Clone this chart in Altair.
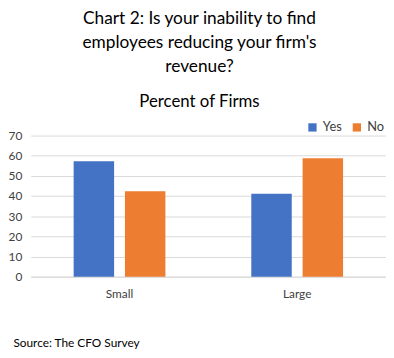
import altair as alt
import pandas as pd

categories = ["Small", "Large"]
series = ["Yes", "No"]
yes_values = [57.3, 41.2]
no_values = [42.4, 58.8]
y_ticks = [0, 10, 20, 30, 40, 50, 60, 70]

rows = []
for i, c in enumerate(categories):
    rows.append({"size": c, "answer": "Yes", "pct": yes_values[i]})
    rows.append({"size": c, "answer": "No", "pct": no_values[i]})
df = pd.DataFrame(rows)

FONT = "Lato"

chart = alt.Chart(df).mark_bar().encode(
    x=alt.X("size:N", sort=categories,
            scale=alt.Scale(paddingInner=0, paddingOuter=0),
            axis=alt.Axis(title="Source: The CFO Survey", titleAnchor="start",
                          titleX=-18, titleY=62, titleFontWeight="normal",
                          titleFontSize=12, titleColor="#000000", titleFont=FONT,
                          labelAngle=0, labelFontSize=12, labelColor="#404040",
                          labelFont=FONT, labelPadding=12, ticks=False,
                          domainColor="#d9d9d9", domainWidth=1)),
    xOffset=alt.XOffset("answer:N", sort=series,
                        scale=alt.Scale(paddingInner=0.2115, paddingOuter=0.837)),
    y=alt.Y("pct:Q", scale=alt.Scale(domain=[0, 70], nice=False),
            axis=alt.Axis(title=None, values=y_ticks, domain=False, ticks=False,
                          labelFontSize=12, labelColor="#404040", labelFont=FONT,
                          labelPadding=9, gridColor="#d9d9d9", gridWidth=1)),
    color=alt.Color("answer:N", sort=series,
                    scale=alt.Scale(domain=series, range=["#4472C4", "#ED7D31"]),
                    legend=alt.Legend(title=None, orient="none", direction="horizontal",
                                      legendX=279, legendY=-15, symbolType="square",
                                      symbolSize=70, symbolStrokeWidth=0,
                                      labelFontSize=13, labelColor="#404040",
                                      labelFont=FONT, columnPadding=8, labelOffset=4)),
).properties(
    width=360,
    height=143,
    title=alt.TitleParams(
        text=["Chart 2: Is your inability to find",
              "employees reducing your firm's",
              "revenue?"],
        subtitle="Percent of Firms",
        anchor="middle", dx=-9,
        font=FONT, fontSize=17.5, fontWeight="normal", color="#000000",
        lineHeight=24.5,
        subtitleFont=FONT, subtitleFontSize=17, subtitleColor="#000000",
        subtitlePadding=19, offset=11,
    ),
    padding={"left": 0, "top": -1, "right": 0, "bottom": -2},
).configure_view(stroke=None)

chart.save("out.html", embed_options={"renderer": "svg", "actions": False})
